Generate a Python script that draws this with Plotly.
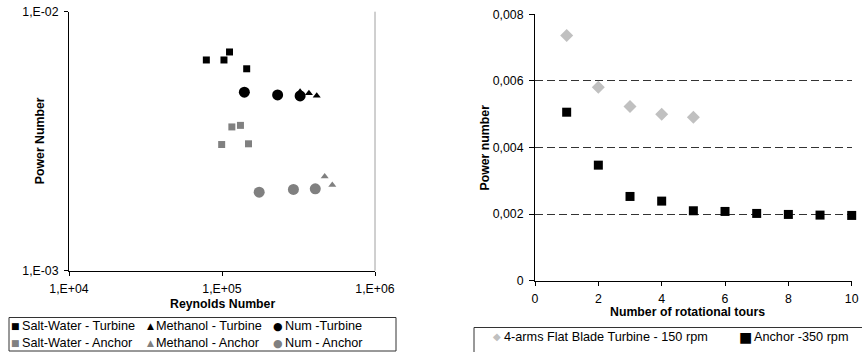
import plotly.graph_objects as go

# ---------------- data: left chart (Power number vs Reynolds) ----------------
sw_turb_re = [7.9e4, 1.03e5, 1.12e5, 1.45e5]
sw_turb_np = [0.00651, 0.00651, 0.00699, 0.00602]
me_turb_re = [3.24e5, 3.7e5, 4.16e5]
me_turb_np = [0.00491, 0.00484, 0.00474]
num_turb_re = [1.40e5, 2.31e5, 3.24e5]
num_turb_np = [0.00489, 0.00477, 0.00473]
sw_anch_re = [9.95e4, 1.16e5, 1.32e5, 1.49e5]
sw_anch_np = [0.00307, 0.00359, 0.00364, 0.00309]
me_anch_re = [4.69e5, 5.26e5]
me_anch_np = [0.00231, 0.00214]
num_anch_re = [1.75e5, 2.93e5, 4.07e5]
num_anch_np = [0.00201, 0.00206, 0.00207]

left_names = ["Salt-Water - Turbine", "Methanol - Turbine", "Num -Turbine",
              "Salt-Water - Anchor", "Methanol - Anchor", "Num - Anchor"]

left_xticks = [1e4, 1e5, 1e6]
left_xtext = ["1,E+04", "1,E+05", "1,E+06"]
left_yticks = [1e-3, 1e-2]
left_ytext = ["1,E-03", "1,E-02"]

# ---------------- data: right chart (Power number vs tours) ----------------
tours_turb = [1, 2, 3, 4, 5]
np_turb = [0.00736, 0.00581, 0.00523, 0.00500, 0.00491]
tours_anch = [1, 2, 3, 4, 5, 6, 7, 8, 9, 10]
np_anch = [0.00506, 0.00347, 0.00253, 0.00239, 0.00210, 0.00208, 0.00202, 0.00199, 0.00197, 0.00196]

right_names = ["4-arms Flat Blade Turbine - 150 rpm", "Anchor -350 rpm"]

right_xticks = [0, 2, 4, 6, 8, 10]
right_yticks = [0, 0.002, 0.004, 0.006, 0.008]
right_ytext = ["0", "0,002", "0,004", "0,006", "0,008"]

FONT = "Liberation Sans, Arial, sans-serif"
W, H = 862, 352
BLACK = "#000000"
GRAY = "#808080"
LGRAY = "#c0c0c0"


def px(x):
    return x / W


def py(y):
    return 1 - y / H


fig = go.Figure()

left_data = [(sw_turb_re, sw_turb_np), (me_turb_re, me_turb_np), (num_turb_re, num_turb_np),
             (sw_anch_re, sw_anch_np), (me_anch_re, me_anch_np), (num_anch_re, num_anch_np)]
left_sym = ["square", "triangle-up", "circle", "square", "triangle-up", "circle"]
left_size = [7, 7, 11, 7, 7, 11]
left_col = [BLACK, BLACK, BLACK, GRAY, GRAY, GRAY]
left_glyph = ["\u25A0", "\u25B2", "\u25CF", "\u25A0", "\u25B2", "\u25CF"]
left_glyph_size = [9, 9, 11, 9, 9, 11]

for (xs, ys), name, sym, size, col in zip(left_data, left_names, left_sym, left_size, left_col):
    fig.add_trace(go.Scatter(
        x=xs, y=ys, mode="markers", name=name, showlegend=False,
        marker=dict(symbol=sym, size=size, color=col, line=dict(width=0)),
        xaxis="x", yaxis="y", cliponaxis=False,
    ))

right_data = [(tours_turb, np_turb), (tours_anch, np_anch)]
right_sym = ["diamond", "square"]
right_size = [10, 9]
right_col = [LGRAY, BLACK]
right_glyph = ["\u25C6", "\u25A0"]
right_glyph_size = [10, 14]

for (xs, ys), name, sym, size, col in zip(right_data, right_names, right_sym, right_size, right_col):
    fig.add_trace(go.Scatter(
        x=xs, y=ys, mode="markers", name=name, showlegend=False,
        marker=dict(symbol=sym, size=size, color=col, line=dict(width=0)),
        xaxis="x2", yaxis="y2", cliponaxis=False,
    ))

tickfont = dict(family=FONT, size=12.3, color=BLACK)
legfont = dict(family=FONT, size=12.7, color=BLACK)
titlefont = dict(family=FONT, size=12.3, color=BLACK)

fig.update_layout(
    width=W, height=H,
    margin=dict(l=0, r=0, t=0, b=0, pad=0, autoexpand=False),
    paper_bgcolor="white", plot_bgcolor="white",
    font=dict(family=FONT, color=BLACK),
    showlegend=False,
    xaxis=dict(type="log", range=[4, 6], domain=[px(69), px(375)], anchor="y",
               tickvals=left_xticks, ticktext=left_xtext, ticks="outside", ticklen=4,
               tickcolor=BLACK, showline=True, linecolor=BLACK, linewidth=1,
               showgrid=False, zeroline=False, tickfont=tickfont, ticklabelstandoff=3,
               automargin=False),
    yaxis=dict(type="log", range=[-3, -2], domain=[py(270.7), py(11.7)], anchor="x",
               tickvals=left_yticks, ticktext=left_ytext, ticks="outside", ticklen=4,
               tickcolor=BLACK, showline=True, linecolor=BLACK, linewidth=1,
               showgrid=True, gridcolor="#909090", griddash="9px,3px", gridwidth=1,
               zeroline=False, tickfont=tickfont, ticklabelstandoff=3, automargin=False),
    xaxis2=dict(range=[0, 10], domain=[px(535), px(851.7)], anchor="y2",
                tickvals=right_xticks, ticks="outside", ticklen=4,
                tickcolor=BLACK, showline=True, linecolor=BLACK, linewidth=1,
                showgrid=False, zeroline=False, tickfont=tickfont, ticklabelstandoff=3,
                automargin=False),
    yaxis2=dict(range=[0, 0.008], domain=[py(280.7), py(14.3)], anchor="x2",
                tickvals=right_yticks, ticktext=right_ytext, ticks="outside", ticklen=5,
                tickcolor=BLACK, showline=True, linecolor=BLACK, linewidth=1,
                showgrid=True, gridcolor="#333333", griddash="8px,4px", gridwidth=1,
                zeroline=False, tickfont=tickfont, ticklabelstandoff=3, automargin=False),
)

# axis titles
fig.add_annotation(text="<b>Reynolds Number</b>", xref="x domain", yref="paper",
                   x=0.5, y=py(304), showarrow=False, font=titlefont,
                   xanchor="center", yanchor="middle")
fig.add_annotation(text="<b>Power Number</b>", xref="paper", yref="y domain",
                   x=px(40), y=0.5, showarrow=False, font=titlefont, textangle=-90,
                   xanchor="center", yanchor="middle")
fig.add_annotation(text="<b>Number of rotational tours</b>", xref="paper", yref="paper",
                   x=px(687), y=py(311.5), showarrow=False, font=titlefont,
                   xanchor="center", yanchor="middle")
fig.add_annotation(text="<b>Power number</b>", xref="paper", yref="y2 domain",
                   x=px(484), y=0.5, showarrow=False, font=titlefont, textangle=-90,
                   xanchor="center", yanchor="middle")

# ---- legends (symbol glyph + label text) ----
left_leg_glyph_x = [15, 150, 278, 15, 150, 278]
left_leg_text_x = [21, 155, 284, 21, 155, 284]
left_leg_y = [326, 326, 326, 343, 343, 343]
for name, g, gs, col, gx, tx, ly in zip(left_names, left_glyph, left_glyph_size, left_col,
                                         left_leg_glyph_x, left_leg_text_x, left_leg_y):
    fig.add_annotation(text=g, xref="paper", yref="paper", x=px(gx), y=py(ly),
                       showarrow=False, xanchor="center", yanchor="middle",
                       font=dict(family="DejaVu Sans", size=gs, color=col), borderpad=0)
    fig.add_annotation(text=name, xref="paper", yref="paper", x=px(tx), y=py(ly),
                       showarrow=False, xanchor="left", yanchor="middle",
                       font=legfont, borderpad=0)

right_leg_glyph_x = [497, 745]
right_leg_text_x = [502.5, 752.5]
right_leg_y = 336.5
for name, g, gs, col, gx, tx in zip(right_names, right_glyph, right_glyph_size, right_col,
                                     right_leg_glyph_x, right_leg_text_x):
    fig.add_annotation(text=g, xref="paper", yref="paper", x=px(gx), y=py(right_leg_y),
                       showarrow=False, xanchor="center", yanchor="middle",
                       font=dict(family="DejaVu Sans", size=gs, color=col), borderpad=0)
    fig.add_annotation(text=name, xref="paper", yref="paper", x=px(tx), y=py(right_leg_y),
                       showarrow=False, xanchor="left", yanchor="middle",
                       font=legfont, borderpad=0)

# left plot-area right border
fig.add_shape(type="line", xref="x domain", yref="y domain", x0=1, x1=1, y0=0, y1=1,
              line=dict(color="#a0a0a0", width=1))
# legend frames
fig.add_shape(type="rect", xref="paper", yref="paper",
              x0=px(9), x1=px(396), y0=py(351), y1=py(317.5),
              line=dict(color="#333333", width=1), fillcolor="rgba(0,0,0,0)", layer="below")
fig.add_shape(type="rect", xref="paper", yref="paper",
              x0=px(474), x1=1.02, y0=-0.05, y1=py(327.5),
              line=dict(color="#333333", width=1), fillcolor="rgba(0,0,0,0)", layer="below")

fig.write_html("out.html")
